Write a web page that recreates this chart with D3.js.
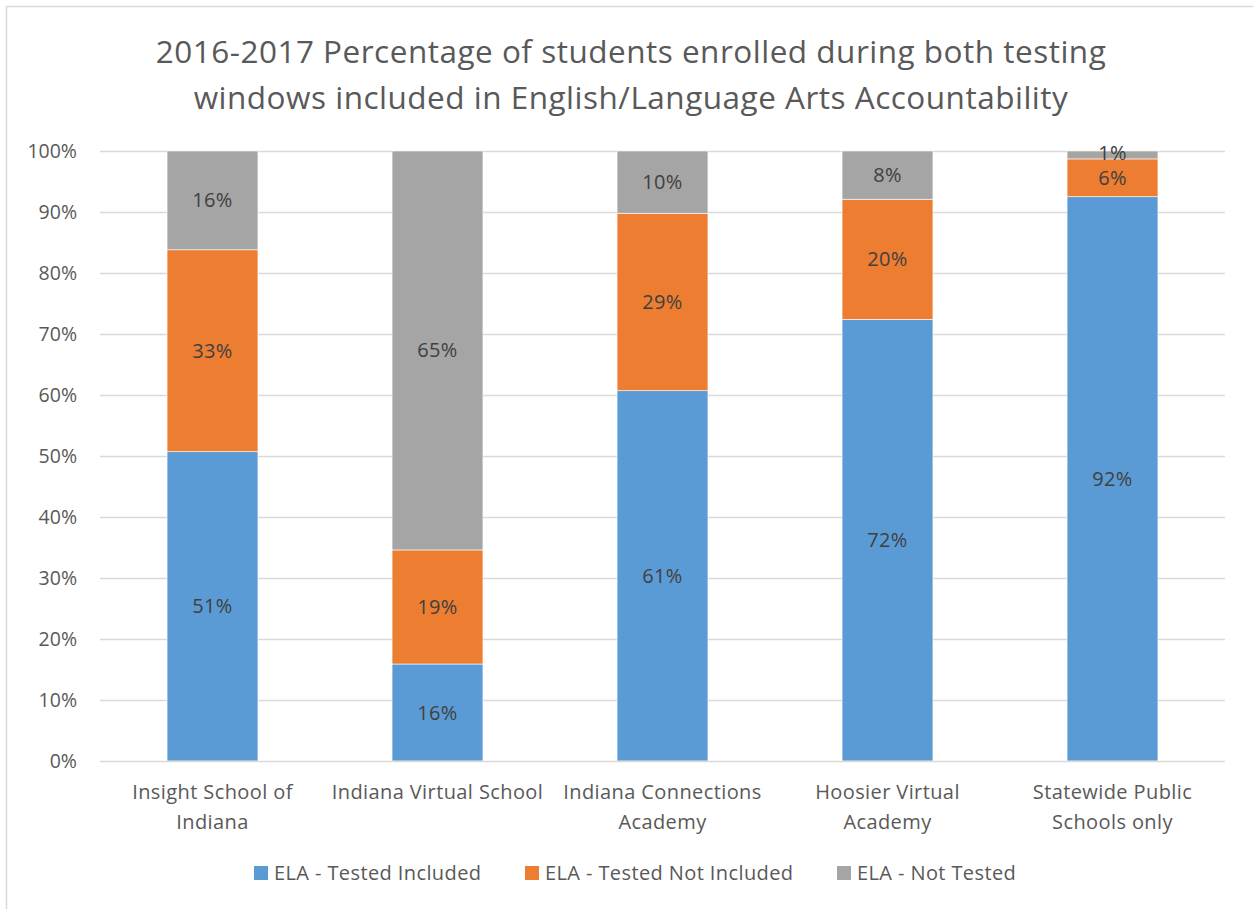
<!DOCTYPE html>
<html><head><meta charset="utf-8">
<script src="https://cdn.jsdelivr.net/npm/d3@7"></script>
<style>body{margin:0;background:#fff;}svg{display:block;font-family:"Open Sans",sans-serif;}</style>
</head><body>
<svg id="c" width="1253" height="909"></svg>
<script>
const categories = [["Insight School of","Indiana"],["Indiana Virtual School"],["Indiana Connections","Academy"],["Hoosier Virtual","Academy"],["Statewide Public","Schools only"]];
const seriesNames = ["ELA - Tested Included","ELA - Tested Not Included","ELA - Not Tested"];
const testedIncluded = [50.7, 15.9, 60.7, 72.4, 92.5];
const testedNotIncluded = [33.1, 18.7, 29.1, 19.7, 6.2];
const notTested = [16.2, 65.4, 10.2, 7.9, 1.3];
const labelsIncluded = ["51%","16%","61%","72%","92%"];
const labelsNotIncluded = ["33%","19%","29%","20%","6%"];
const labelsNotTested = ["16%","65%","10%","8%","1%"];
const yTicks = [0,10,20,30,40,50,60,70,80,90,100];
const colors = ["#5b9bd5","#ed7d31","#a5a5a5"];

const svg = d3.select("#c");
svg.append("rect").attr("x",6.5).attr("y",6.5).attr("width",1300).attr("height",1000).attr("fill","none").attr("stroke","#d9d9d9").attr("stroke-width",1.5);

const x = d3.scaleBand().domain(d3.range(categories.length)).range([100,1225]).paddingInner(0.596).paddingOuter(0.298);
const y = d3.scaleLinear().domain([0,100]).range([761,151]);

// title
const title = svg.append("text").attr("text-anchor","middle").attr("fill","#595959").style("font-size","31.5px").style("letter-spacing","0.5px");
title.append("tspan").attr("x",631).attr("y",63).text("2016-2017 Percentage of students enrolled during both testing");
title.append("tspan").attr("x",631).attr("y",109).text("windows included in English/Language Arts Accountability");

// y axis labels
const gy = svg.append("g").attr("transform","translate(100,0)").call(d3.axisLeft(y).tickValues(yTicks).tickFormat(d=>d+"%").tickSize(0).tickPadding(23));
gy.select(".domain").remove();
gy.selectAll("text").attr("fill","#595959").style("font-size","19.5px").style("font-family","'Open Sans',sans-serif");
svg.append("g").selectAll("line").data(yTicks.filter(d=>d>0)).join("line")
  .attr("x1",100).attr("x2",1225).attr("y1",d=>Math.round(y(d))+0.5).attr("y2",d=>Math.round(y(d))+0.5)
  .attr("stroke","#d9d9d9").attr("stroke-width",1.3);

// stacks
const rows = categories.map((c,i)=>({i, a:testedIncluded[i], b:testedNotIncluded[i], c:notTested[i]}));
const stack = d3.stack().keys(["a","b","c"])(rows);
const labs = [labelsIncluded, labelsNotIncluded, labelsNotTested];
stack.forEach((s,si)=>{
  const g = svg.append("g");
  g.selectAll("rect").data(s).join("rect")
    .attr("x",d=>x(d.data.i)).attr("width",x.bandwidth())
    .attr("y",d=>y(d[1])).attr("height",d=>y(d[0])-y(d[1]))
    .attr("fill",colors[si]).attr("stroke","#fff").attr("stroke-width",0.6);
});
stack.forEach((s,si)=>{
  svg.append("g").selectAll("text").data(s).join("text")
    .attr("x",d=>x(d.data.i)+x.bandwidth()/2)
    .attr("y",d=>(y(d[0])+y(d[1]))/2 + 7 - (si===2 && d.data.i===4 ? 2 : 0))
    .attr("text-anchor","middle").attr("fill","#404040").style("font-size","20px").style("letter-spacing","0.3px")
    .text((d,j)=>labs[si][j]);
});

// x axis line
svg.append("line").attr("x1",100).attr("x2",1225).attr("y1",761.5).attr("y2",761.5).attr("stroke","#d9d9d9").attr("stroke-width",1.5);
// x labels
const xl = svg.append("g").selectAll("text").data(categories).join("text")
  .attr("text-anchor","middle").attr("fill","#595959").style("font-size","20px").style("letter-spacing","0.4px");
xl.each(function(d,i){
  const t = d3.select(this);
  d.forEach((line,k)=>t.append("tspan").attr("x",x(i)+x.bandwidth()/2).attr("y",799+k*30).text(line));
});

// legend
const legX = [254, 525, 837];
const lg = svg.append("g");
seriesNames.forEach((n,i)=>{
  lg.append("rect").attr("x",legX[i]).attr("y",866).attr("width",14).attr("height",14).attr("fill",colors[i]);
  lg.append("text").attr("x",legX[i]+20).attr("y",880).attr("fill","#595959").style("font-size","20px").style("letter-spacing","0.4px").text(n);
});
</script>
</body></html>
